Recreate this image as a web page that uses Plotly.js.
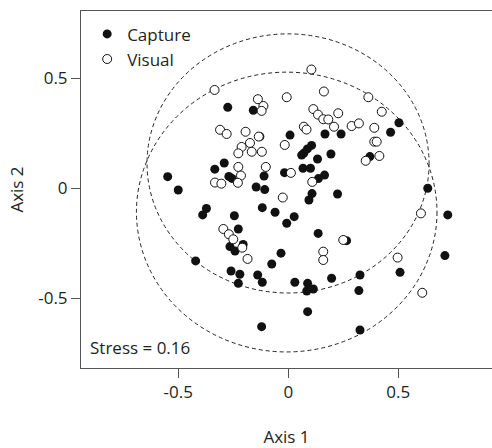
<!DOCTYPE html>
<html><head><meta charset="utf-8">
<script src="https://cdn.plot.ly/plotly-3.0.1.min.js"></script>
<style>html,body{margin:0;padding:0;background:#fff;} #chart{width:492px;height:448px;}</style>
</head><body><div id="chart"></div>
<script>
// Capture (filled) points
const captureX = [-0.275,-0.159,-0.129,0.008,0.106,0.087,0.071,0.061,0.167,0.240,0.194,0.133,-0.291,-0.334,-0.270,-0.256,-0.110,-0.017,0.067,0.101,0.165,0.137,-0.146,-0.107,0.108,0.224,0.503,0.465,0.371,0.634,0.725,0.265,0.712,0.326,0.508,0.321,0.326,0.094,-0.372,-0.118,-0.060,-0.245,0.027,-0.007,-0.227,0.136,-0.205,-0.265,-0.242,-0.033,-0.075,-0.260,-0.220,-0.227,-0.139,-0.118,0.030,0.088,0.084,0.114,0.197,0.088,-0.121,-0.548,-0.500,-0.389,-0.421];
const captureY = [0.368,0.355,0.235,0.242,0.195,0.179,0.160,0.151,0.247,0.247,0.156,0.133,0.115,0.087,0.054,0.045,0.056,0.071,0.091,0.091,0.060,0.044,0.006,-0.006,-0.024,-0.026,0.298,0.255,0.144,0.000,-0.121,-0.238,-0.306,-0.394,-0.382,-0.465,-0.644,-0.053,-0.092,-0.088,-0.109,-0.125,-0.129,-0.159,-0.185,-0.205,-0.255,-0.265,-0.285,-0.295,-0.344,-0.376,-0.391,-0.432,-0.394,-0.427,-0.427,-0.432,-0.467,-0.458,-0.409,-0.561,-0.629,0.053,-0.008,-0.121,-0.330];
// Visual (open) points
const visualX = [0.105,-0.335,0.162,-0.007,-0.138,-0.113,-0.121,0.114,0.135,0.227,0.159,0.182,0.208,0.071,0.083,-0.310,-0.280,-0.194,-0.134,-0.174,-0.212,-0.227,-0.166,-0.120,-0.016,-0.227,-0.102,-0.215,-0.333,-0.304,-0.229,0.012,0.109,-0.025,0.364,0.425,0.288,0.321,0.391,0.391,0.402,0.352,0.414,0.603,0.250,0.497,0.609,-0.295,-0.270,-0.250,-0.209,-0.185,0.159,0.159];
const visualY = [0.540,0.447,0.440,0.414,0.405,0.374,0.352,0.360,0.335,0.341,0.314,0.313,0.280,0.280,0.267,0.266,0.247,0.257,0.235,0.206,0.188,0.159,0.166,0.166,0.197,0.097,0.097,0.058,0.026,0.021,0.025,0.070,0.029,-0.042,0.414,0.348,0.283,0.295,0.275,0.212,0.212,0.125,0.147,-0.114,-0.235,-0.315,-0.475,-0.185,-0.209,-0.232,-0.270,-0.321,-0.288,-0.326];
// Group ellipses (centre and semi-axes in axis units)
const ellipseNames = ['Visual','Capture'];
const ellipseCX = [-0.001,-0.007];
const ellipseCY = [0.113,-0.108];
const ellipseRX = [0.641,0.683];
const ellipseRY = [0.589,0.636];
// Axes
const tickVals = [-0.5,0,0.5];
const tickText = ['-0.5','0','0.5'];
const xTitle = 'Axis 1';
const yTitle = 'Axis 2';
const stressLabel = 'Stress = 0.16';

const FONT = '"Open Sans", "Noto Sans", sans-serif';
const INK = '#231f20';
const AXC = '#555555';

const traces = [
  {type:'scatter', mode:'markers', name:'Capture', x:captureX, y:captureY,
   marker:{symbol:'circle', size:9, color:'#111111', line:{width:0}}},
  {type:'scatter', mode:'markers', name:'Visual', x:visualX, y:visualY,
   marker:{symbol:'circle', size:9, color:'#ffffff', line:{width:1, color:'#111111'}}}
];

const shapes = ellipseNames.map((n,i)=>({
  type:'circle', xref:'x', yref:'y', layer:'below',
  x0: ellipseCX[i]-ellipseRX[i], x1: ellipseCX[i]+ellipseRX[i],
  y0: ellipseCY[i]-ellipseRY[i], y1: ellipseCY[i]+ellipseRY[i],
  line:{color:'#222222', width:1, dash:'4px,3px'}
}));

const axisCommon = {
  showgrid:false, zeroline:false, showline:true, linecolor:AXC, linewidth:1,
  ticks:'outside', ticklen:9, tickwidth:1, tickcolor:AXC,
  tickmode:'array', tickvals:tickVals, ticktext:tickText,
  tickfont:{family:FONT, size:17, color:INK}
};

const layout = {
  width:492, height:448,
  margin:{l:81, r:0, t:11, b:80, pad:0},
  paper_bgcolor:'#ffffff', plot_bgcolor:'#ffffff',
  font:{family:FONT, size:17, color:INK},
  showlegend:true,
  legend:{x:0.015, y:0.985, xanchor:'left', yanchor:'top', bgcolor:'rgba(0,0,0,0)', borderwidth:0,
          font:{family:FONT, size:17, color:INK}},
  xaxis:Object.assign({}, axisCommon, {range:[-0.942,0.926], mirror:true,
          title:{text:xTitle, font:{family:FONT, size:17, color:INK}, standoff:28}}),
  yaxis:Object.assign({}, axisCommon, {range:[-0.817,0.806], mirror:false,
          title:{text:yTitle, font:{family:FONT, size:17, color:INK}, standoff:10}}),
  shapes:shapes,
  annotations:[{xref:'paper', yref:'paper', x:0.017, y:0.058, xanchor:'left', yanchor:'middle',
    showarrow:false, text:stressLabel, font:{family:FONT, size:17, color:INK}}]
};

Plotly.newPlot('chart', traces, layout, {displayModeBar:false, staticPlot:true});
</script>
</body></html>
